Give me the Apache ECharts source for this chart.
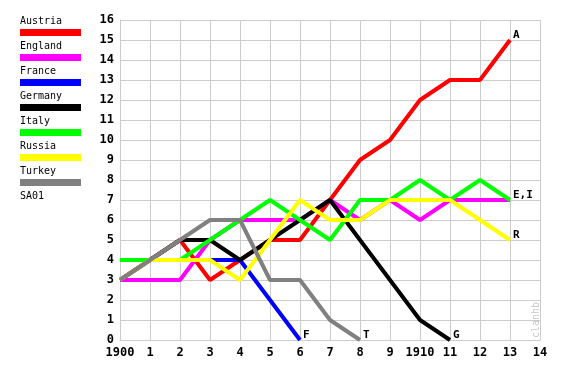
<!DOCTYPE html>
<html>
<head>
<meta charset="utf-8">
<script src="https://cdn.jsdelivr.net/npm/echarts@6/dist/echarts.min.js"></script>
<style>html,body{margin:0;padding:0;background:#fff}#c{width:565px;height:370px}</style>
</head>
<body>
<div id="c"></div>
<script>
var xLabels = ['1900','1','2','3','4','5','6','7','8','9','1910','11','12','13','14'];
var names = ['Austria','England','France','Germany','Italy','Russia','Turkey'];
var colors = ['#ff0000','#ff00ff','#0000ff','#000000','#00ff00','#ffff00','#808080'];
var endLabels = ['A','','F','G','E,I','R','T'];
var austria = [3,4,5,3,4,5,5,7,9,10,12,13,13,15,null];
var england = [3,3,3,5,6,6,6,7,6,7,6,7,7,7,null];
var france  = [4,4,4,4,4,2,0,null,null,null,null,null,null,null,null];
var germany = [3,4,5,5,4,5,6,7,5,3,1,0,null,null,null];
var italy   = [4,4,4,5,6,7,6,5,7,7,8,7,8,7,null];
var russia  = [3,4,4,4,3,5,7,6,6,7,7,7,6,5,null];
var turkey  = [3,4,5,6,6,3,3,1,0,null,null,null,null,null,null];
var seriesData = [austria,england,france,germany,italy,russia,turkey];
var extraLegend = 'SA01';

var mono = '"DejaVu Sans Mono", "Liberation Mono", monospace';
var chart = echarts.init(document.getElementById('c'), null, {renderer:'canvas'});

var series = names.map(function(n,i){
  return {
    name: n, type: 'line', data: seriesData[i], symbol: 'none',
    lineStyle: {color: colors[i], width: 4},
    itemStyle: {color: colors[i]},
    animation: false,
    endLabel: {
      show: endLabels[i] !== '',
      formatter: endLabels[i],
      distance: 3,
      offset: [0,-5],
      color: '#000',
      fontFamily: mono,
      fontWeight: 'bold',
      fontSize: 11
    }
  };
});

var graphics = [];
names.forEach(function(n,i){
  graphics.push({type:'text', left:20, top: 16+25*i, style:{text:n, fill:'#000', font:'10px '+mono}});
  graphics.push({type:'rect', shape:{x:20, y:29+25*i, width:61, height:7}, style:{fill:colors[i]}});
});
graphics.push({type:'text', left:20, top: 16+25*7, style:{text:extraLegend, fill:'#000', font:'10px '+mono}});
graphics.push({type:'text', x:531, y:338, rotation:Math.PI/2, style:{text:'clanhb', fill:'#c8c8c8', font:'10px '+mono}});

chart.setOption({
  animation: false,
  backgroundColor: '#fff',
  grid: {left:120, right:25, top:20, bottom:30, containLabel:false},
  xAxis: {
    type: 'category', data: xLabels, boundaryGap: false,
    axisLine: {lineStyle:{color:'#cccccc', width:1}},
    axisTick: {show:false},
    splitLine: {show:true, lineStyle:{color:'#cccccc', width:1}},
    axisLabel: {color:'#000', fontFamily:mono, fontWeight:'bold', fontSize:12, margin:7, interval:0}
  },
  yAxis: {
    type: 'value', min:0, max:16, interval:1,
    axisLine: {show:true, lineStyle:{color:'#cccccc', width:1}},
    axisTick: {show:false},
    splitLine: {show:true, lineStyle:{color:'#cccccc', width:1}},
    axisLabel: {color:'#000', fontFamily:mono, fontWeight:'bold', fontSize:12, margin:6}
  },
  series: series,
  graphic: graphics
});
</script>
</body>
</html>
